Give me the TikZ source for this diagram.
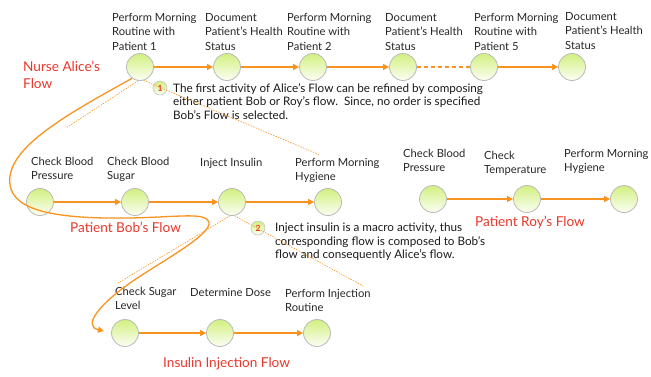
\documentclass[tikz,border=0pt]{standalone}
\usepackage{fontspec}
\setmainfont{Lato}
\usepackage{tikz}
\usetikzlibrary{arrows.meta}
\definecolor{flowline}{HTML}{F7931E}
\definecolor{flowname}{HTML}{E8372A}
\definecolor{actgreen}{HTML}{D2F080}

\begin{document}
\begin{tikzpicture}[x=1pt,y=-1pt,
    act/.style={circle,minimum size=27pt,inner sep=0,draw=gray!55,line width=0.8pt,
      top color=actgreen,bottom color=actgreen!8},
    badge/.style={circle,minimum size=14pt,inner sep=0,draw=gray!45,line width=0.6pt,
      top color=actgreen,bottom color=actgreen!10,text=flowname,font=\fontsize{8.5}{8.5}\bfseries\selectfont},
    lbl/.style={anchor=north west,align=left,inner sep=0,text=black!85,font=\fontsize{11.2}{14.5}\selectfont},
    notetext/.style={anchor=north west,align=left,inner sep=0,text=black!90,font=\fontsize{11.7}{13.5}\selectfont},
    title/.style={anchor=north west,align=left,inner sep=0,text=flowname,font=\fontsize{13.6}{16.5}\selectfont},
    flow/.style={draw=flowline,line width=1.3pt,-{Triangle[length=6pt,width=6pt]}},
    zoomline/.style={draw=flowline,line width=0.6pt,dash pattern=on 1.5pt off 1.2pt}]
    \useasboundingbox (0,0) rectangle (651,376);

    % nurse alice
    \node[act] (a1) at (140,67) {};
    \node[act] (a2) at (227,67) {};
    \node[act] (a3) at (313,67) {};
    \node[act] (a4) at (403,67) {};
    \node[act] (a5) at (484,67) {};
    \node[act] (a6) at (572,67) {};
    \node[lbl] at (112,13) {Perform Morning\\Routine with\\Patient 1};
    \node[lbl] at (205,13) {Document\\Patient’s Health\\Status};
    \node[lbl] at (287,13) {Perform Morning\\Routine with\\Patient 2};
    \node[lbl] at (385,13) {Document\\Patient’s Health\\Status};
    \node[lbl] at (474,13) {Perform Morning\\Routine with\\Patient 5};
    \node[lbl] at (565,12) {Document\\Patient’s Health\\Status};
    \draw[flow] (a1) -- (a2);
    \draw[flow] (a2) -- (a3);
    \draw[flow] (a3) -- (a4);
    \draw[draw=flowline,line width=1.3pt,dash pattern=on 4pt off 3pt] (a4) -- (a5);
    \draw[flow] (a5) -- (a6);
    \node[title] (alice) at (23,61) {Nurse Alice’s\\Flow};

    % patient bob
    \node[act] (b1) at (40,202) {};
    \node[act] (b2) at (135,202) {};
    \node[act] (b3) at (232,202) {};
    \node[act] (b4) at (328,202) {};
    \node[lbl] at (31,157) {Check Blood\\Pressure};
    \node[lbl] at (107,157) {Check Blood\\Sugar};
    \node[lbl] at (200,158) {Inject Insulin};
    \node[lbl] at (295,158) {Perform Morning\\Hygiene};
    \draw[flow] (b1) -- (b2);
    \draw[flow] (b2) -- (b3);
    \draw[flow] (b3) -- (b4);
    \node[title] (bob) at (70,222) {Patient Bob’s Flow};

    % patient roy
    \node[act] (r1) at (433,199) {};
    \node[act] (r2) at (527,199) {};
    \node[act] (r3) at (624,199) {};
    \node[lbl] at (403,149) {Check Blood\\Pressure};
    \node[lbl] at (484,151) {Check\\Temperature};
    \node[lbl] at (564,149) {Perform Morning\\Hygiene};
    \draw[flow] (r1) -- (r2);
    \draw[flow] (r2) -- (r3);
    \node[title] (roy) at (475,216) {Patient Roy’s Flow};

    % insulin injection
    \node[act] (s1) at (125,333) {};
    \node[act] (s2) at (220,333) {};
    \node[act] (s3) at (317,333) {};
    \node[lbl] at (115,287) {Check Sugar\\Level};
    \node[lbl] at (190,288) {Determine Dose};
    \node[lbl] at (285,289) {Perform Injection\\Routine};
    \draw[flow] (s1) -- (s2);
    \draw[flow] (s2) -- (s3);
    \node[title] (insulin) at (163,357) {Insulin Injection Flow};

    % notes
    \node[badge] (n1) at (160,88) {1};
    \node[notetext] at (173,83) {The first activity of Alice’s Flow can be refined by composing\\either patient Bob or Roy’s flow.\ \ Since, no order is specified\\Bob’s Flow is selected.};
    \node[badge] (n2) at (258,228) {2};
    \node[notetext] at (275,223) {Inject insulin is a macro activity, thus\\corresponding flow is composed to Bob’s\\flow and consequently Alice’s flow.};

    % refinement
    \coordinate (bobleft) at (66,128);
    \coordinate (bobright) at (320,155);
    \coordinate (insleft) at (118,283);
    \coordinate (insright) at (363,286);
    \coordinate (loopend) at (104,331);
    \draw[zoomline] (a1.262) -- (bobleft);
    \draw[zoomline] (a1.285) -- (bobright);
    \draw[zoomline] (b3.262) -- (insleft);
    \draw[zoomline] (b3.280) -- (insright);
    \draw[flow] (a1.235) .. controls (60,118) and (5,150) .. (10,185)
      .. controls (14,212) and (60,219) .. (130,218)
      .. controls (180,217) and (205,212) .. (209,222)
      .. controls (212,235) and (160,262) .. (130,283)
      .. controls (100,304) and (82,326) .. (loopend);
\end{tikzpicture}
\end{document}
